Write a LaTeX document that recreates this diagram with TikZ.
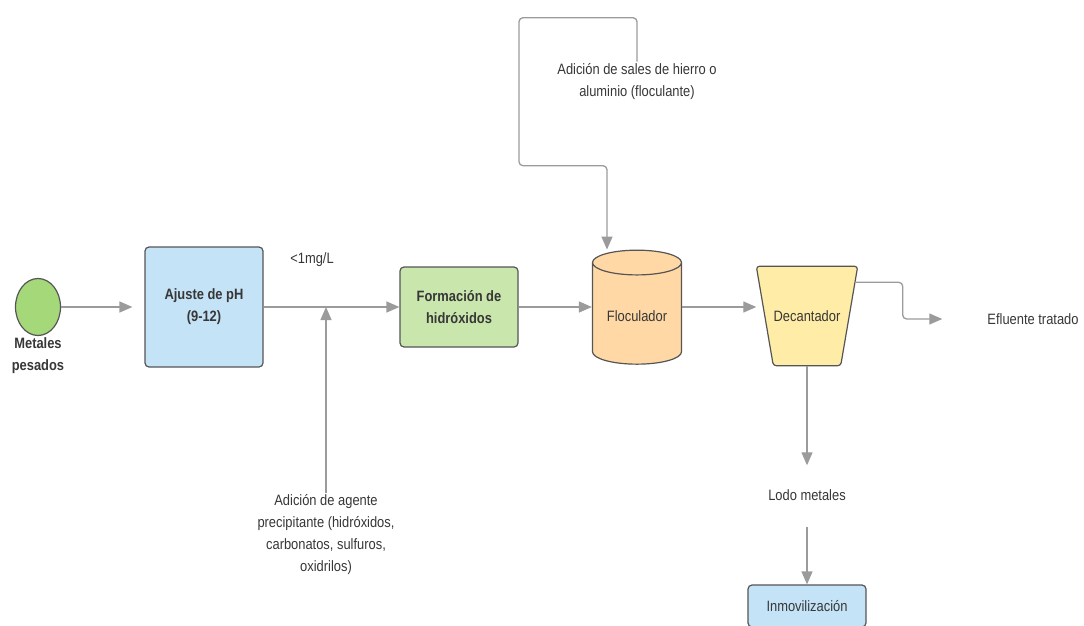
\documentclass[tikz,border=0pt]{standalone}
\usepackage{fontspec}
\setmainfont{Liberation Sans}[FakeStretch=0.86]
\usepackage{tikz}
\usetikzlibrary{shapes.geometric, arrows.meta, backgrounds}
\definecolor{lineagris}{RGB}{155,155,155}
\definecolor{bordegris}{RGB}{85,85,85}
\definecolor{textogris}{RGB}{55,55,55}
\definecolor{azulclaro}{RGB}{197,227,246}
\definecolor{verdeclaro}{RGB}{201,230,173}
\definecolor{verdecirculo}{RGB}{164,216,120}
\definecolor{naranjaclaro}{RGB}{255,216,166}
\definecolor{amarilloclaro}{RGB}{255,236,166}

\begin{document}
\begin{tikzpicture}[x=1pt, y=-1pt, node distance=170pt, font=\fontsize{15}{22}\selectfont, text=textogris]
		\tikzstyle{proceso} = [rectangle, rounded corners=4pt, minimum width=118pt, draw=bordegris, line width=1.2pt, align=center]
		
		\tikzstyle{equipo} = [draw=bordegris, line width=1.2pt, align=center]
		
		\tikzstyle{etiqueta} = [align=center, inner sep=2pt]
		
		\tikzstyle{arrow} = [draw=lineagris, line width=1.3pt, -{Triangle[length=13pt, width=11pt]}]
		%-------------------------------------------------------
		\useasboundingbox (0,0) rectangle (1084,626);
		
		% Linea principal
		\node (metales) [ellipse, minimum width=45pt, minimum height=57pt, fill=verdecirculo, draw=bordegris, line width=1.2pt] at (38,307) {};
		\node (metalestxt) [etiqueta, below of = metales, node distance=49pt]{\textbf{Metales}\\\textbf{pesados}};
		
		\node (ajuste) [proceso, right of = metales, node distance=166pt, minimum height=120pt, fill=azulclaro]{\textbf{Ajuste de pH}\\\textbf{(9-12)}};
		\node (limite) [etiqueta, right of = ajuste, xshift=-62pt, yshift=47pt]{<1mg/L};
		\node (agente) [etiqueta, below of = ajuste, xshift=122pt, yshift=-58pt]{Adición de agente\\precipitante (hidróxidos,\\carbonatos, sulfuros,\\oxidrilos)};
		
		\node (formacion) [proceso, right of = ajuste, node distance=255pt, minimum height=80pt, fill=verdeclaro]{\textbf{Formación de}\\\textbf{hidróxidos}};
		
		\node (floculador) [equipo, cylinder, shape border rotate=90, aspect=0.37, minimum width=89pt, minimum height=114pt, fill=naranjaclaro, right of = formacion, node distance=178pt, yshift=-9pt]{Floculador};
		\node (sales) [etiqueta, above of = floculador, node distance=234pt]{Adición de sales de hierro o\\aluminio (floculante)};
		
		\node (decantador) [rectangle, minimum width=101pt, minimum height=99pt, inner sep=0pt, right of = floculador, node distance=170pt]{Decantador};
		% cuerpo del decantador (trapecio) detras del texto
		\begin{scope}[on background layer]
			\draw [equipo, fill=amarilloclaro, rounded corners=3pt] (decantador.north west) -- (decantador.north east) -- ([xshift=-17pt]decantador.south east) -- ([xshift=17pt]decantador.south west) -- cycle;
		\end{scope}
		\node (efluente) [etiqueta, right of = decantador, node distance=226pt, yshift=-3pt]{Efluente tratado};
		
		\node (lodo) [etiqueta, below of = decantador, node distance=179pt]{Lodo metales};
		\node (inmov) [proceso, below of = lodo, node distance=111pt, minimum height=42pt, fill=azulclaro]{Inmovilización};
		
		% Conexiones
		\draw [arrow] (metales.east) -- ([xshift=-12pt]ajuste.west);
		\draw [arrow] (ajuste.east) -- (formacion.west);
		\draw [arrow] (agente.north) -- (agente.north |- ajuste.east);
		\draw [arrow] (formacion.east) -- (formacion.east -| floculador.west);
		\draw [arrow, rounded corners=4pt] (sales.north) |- ++(-118,-44) |- ++(88,148) -- ([xshift=-30pt]floculador.north);
		\draw [arrow] (floculador.east |- formacion.east) -- (formacion.east -| decantador.west);
		\draw [arrow, rounded corners=4pt] ([xshift=-3pt, yshift=-16pt]decantador.north east) -- ++(48,0) |- ([xshift=-43pt]efluente.west);
		\draw [arrow] (decantador.south) -- ([yshift=22pt]lodo.north);
		\draw [arrow] ([yshift=-24pt]lodo.south) -- (inmov.north);
		\end{tikzpicture}
\end{document}
